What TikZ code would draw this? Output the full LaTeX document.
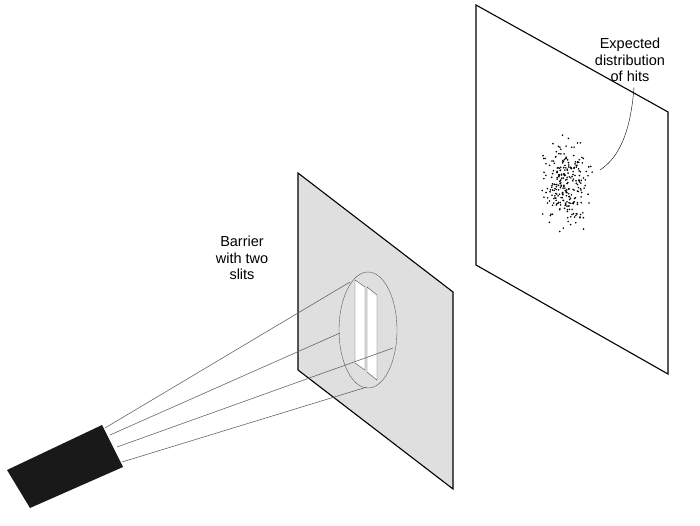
\documentclass[tikz,border=0pt]{standalone}
\usepackage{fontspec}
\setmainfont{Liberation Sans}
\begin{document}
\begin{tikzpicture}[x=1pt, y=-1pt,
  ray/.style={gray!80!black, line width=0.6pt},
  lbl/.style={align=center, font=\fontsize{14.5}{16.5}\selectfont}]
  \useasboundingbox (0,0) rectangle (700,526);

  %barreira
  \fill[gray!25] (298,173) -- (453,292) -- (453,489) -- (298,370) -- cycle;
  \draw[line width=1.1pt] (298,173) -- (453,292) -- (453,489) -- (298,370) -- cycle;
  \draw[gray!70!black] (368,330) ellipse [x radius=29, y radius=58];
  \fill[white, draw=gray!60!black] (355,280) -- (365,287) -- (365,370) -- (355,363) -- cycle;
  \fill[white, draw=gray!60!black] (367,287) -- (377,295) -- (377,380) -- (367,372) -- cycle;

  %raios
  \coordinate (r1) at (350,282);
  \coordinate (r2) at (340,333);
  \coordinate (r3) at (393,348);
  \coordinate (r4) at (367,387);
  \draw[ray] (105,428) -- (r1);
  \draw[ray] (110,435) -- (r2);
  \draw[ray] (117,447) -- (r3);
  \draw[ray] (122,462) -- (r4);

  %canhao
  \fill[black!90] (7,470) -- (102,425) -- (123,467) -- (30,508) -- cycle;

  %tela
  \draw[line width=1.1pt] (476,5) -- (668,112) -- (668,374) -- (476,265) -- cycle;
  \pgfmathsetseed{7}
  \foreach \i in {1,...,260}{
    \pgfmathsetmacro{\dx}{11*(rand+rand+rand)}
    \pgfmathsetmacro{\dy}{20*(rand+rand+rand)}
    \fill (566+\dx,182+\dy) circle (0.9);
  }

  %rotulos
  \node[lbl] (hits) at (630,60) {Expected\\distribution\\of hits};
  \draw (hits.south) ++(4,2) coordinate (h0) .. controls (630,140) and (615,160) .. (600,170);
  \node[lbl] (barrier) at (242,258) {Barrier\\with two\\slits};
\end{tikzpicture}
\end{document}
